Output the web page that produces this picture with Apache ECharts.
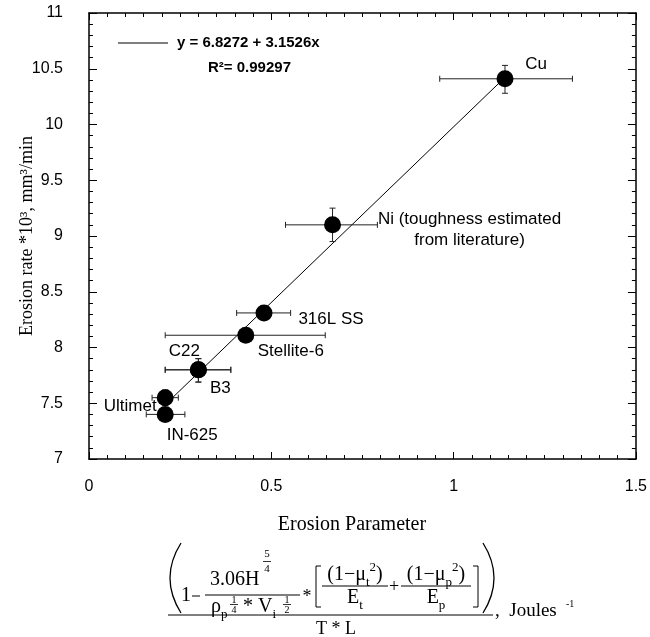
<!DOCTYPE html>
<html>
<head>
<meta charset="utf-8">
<script src="https://cdn.jsdelivr.net/npm/echarts@6/dist/echarts.min.js"></script>
<style>
  html, body { margin: 0; padding: 0; background: #fff; }
  #container { width: 650px; height: 637px; }
</style>
</head>
<body>
<div id="container"></div>
<script>
// materials
var names = ['Cu', 'Ni', '316L SS', 'Stellite-6', 'C22', 'B3', 'Ultimet', 'IN-625'];
var xVals = [1.141, 0.668, 0.480, 0.430, 0.300, 0.300, 0.209, 0.209];
var yVals = [10.41, 9.10, 8.31, 8.11, 7.80, 7.80, 7.55, 7.40];
// error bars (x range and y range)
var xLow  = [0.962, 0.539, 0.405, 0.209, 0.209, 0.209, 0.173, 0.157];
var xHigh = [1.326, 0.791, 0.553, 0.648, 0.389, 0.389, 0.245, 0.263];
var yLow  = [10.28, 8.95, 8.31, 8.11, 7.69, 7.69, 7.48, 7.40];
var yHigh = [10.53, 9.25, 8.31, 8.11, 7.90, 7.90, 7.62, 7.40];
// fitted line ends
var fitX = [0.21, 1.14];
var fitY = [7.49, 10.42];
// ticks
var xTicks = [0, 0.5, 1, 1.5];
var yTicks = [7, 7.5, 8, 8.5, 9, 9.5, 10, 10.5, 11];

var fitText = 'y = 6.8272 + 3.1526x';
var r2Text = 'R²= 0.99297';
var yName = 'Erosion rate *10³, mm³/min';

// label placement (px from point centre)
var labelOffset = {
    'Cu': [31, -14],
    'Ni': [137, 5],
    '316L SS': [67, 6],
    'Stellite-6': [45, 16],
    'C22': [-14, -18],
    'B3': [22, 19],
    'Ultimet': [-35, 9],
    'IN-625': [27, 21]
};
var labelText = { 'Ni': 'Ni (toughness estimated\nfrom literature)' };

var SANS = '"Liberation Sans", Arial, sans-serif';
var SERIF = '"Liberation Serif", "Times New Roman", serif';

var pts = names.map(function (n, i) {
    return {
        name: n,
        value: [xVals[i], yVals[i]],
        label: { offset: labelOffset[n] }
    };
});
var errData = names.map(function (n, i) {
    return [xVals[i], yVals[i], xLow[i], xHigh[i], yLow[i], yHigh[i]];
});

function renderErr(params, api) {
    var x = api.value(0), y = api.value(1);
    var a = api.coord([api.value(2), y]);
    var b = api.coord([api.value(3), y]);
    var lo = api.coord([x, api.value(4)]);
    var hi = api.coord([x, api.value(5)]);
    var c = 3;
    var st = { stroke: '#222', lineWidth: 1 };
    var ch = [
        { type: 'line', shape: { x1: a[0], y1: a[1], x2: b[0], y2: b[1] }, style: st },
        { type: 'line', shape: { x1: a[0], y1: a[1] - c, x2: a[0], y2: a[1] + c }, style: st },
        { type: 'line', shape: { x1: b[0], y1: b[1] - c, x2: b[0], y2: b[1] + c }, style: st }
    ];
    if (lo[1] - hi[1] > 2) {
        ch.push({ type: 'line', shape: { x1: lo[0], y1: lo[1], x2: hi[0], y2: hi[1] }, style: st });
        ch.push({ type: 'line', shape: { x1: lo[0] - c, y1: lo[1], x2: lo[0] + c, y2: lo[1] }, style: st });
        ch.push({ type: 'line', shape: { x1: hi[0] - c, y1: hi[1], x2: hi[0] + c, y2: hi[1] }, style: st });
    }
    return { type: 'group', children: ch };
}

// helpers for the texts drawn by hand (formula, fit legend, y name)
function T(x, y, s, size, align, extra) {
    var st = {
        text: s, fontFamily: SERIF, fontSize: size, fill: '#000',
        align: align || 'left', verticalAlign: 'middle',
        textAlign: align || 'left', textVerticalAlign: 'middle'
    };
    if (extra) { for (var k in extra) st[k] = extra[k]; }
    return { type: 'text', x: x, y: y, style: st, silent: true };
}
function L(x1, y1, x2, y2, w) {
    return { type: 'line', shape: { x1: x1, y1: y1, x2: x2, y2: y2 },
             style: { stroke: '#000', lineWidth: w || 1 }, silent: true };
}
function P(x1, y1, cx, cy, x2, y2) {
    return { type: 'bezierCurve', shape: { x1: x1, y1: y1, cpx1: cx, cpy1: cy, x2: x2, y2: y2 },
             style: { stroke: '#000', lineWidth: 1.3, fill: null }, silent: true };
}
var rich = {
    sb: { fontFamily: SERIF, fontSize: 13, verticalAlign: 'bottom', lineHeight: 13 },
    sp: { fontFamily: SERIF, fontSize: 13, verticalAlign: 'top', lineHeight: 13 }
};
function R(x, y, s, align) {
    return T(x, y, s, 20, align, { rich: rich, lineHeight: 28 });
}

var yNameText = T(27, 236, yName, 18, 'center');
yNameText.rotation = Math.PI / 2;

var formula = [
    yNameText,
    T(352, 525, 'Erosion Parameter', 20, 'center'),
    P(181, 543, 159, 578, 181, 613),
    T(181, 596, '1', 20),
    L(192, 596, 200, 596),
    L(205, 595, 300, 595),
    T(210, 580, '3.06H', 20),
    T(267, 554, '5', 11, 'center'),
    L(263, 561.5, 271, 561.5, 0.8),
    T(267, 569, '4', 11, 'center'),
    R(211, 607, 'ρ{sb|p}'),
    T(234, 600, '1', 10, 'center'),
    L(230, 604.5, 238, 604.5, 0.8),
    T(234, 610, '4', 10, 'center'),
    R(243, 607, '* V{sb|i}'),
    T(287, 600, '1', 10, 'center'),
    L(283, 604.5, 291, 604.5, 0.8),
    T(287, 610, '2', 10, 'center'),
    T(307, 597, '*', 18, 'center'),
    L(316, 566, 316, 607), L(316, 566, 321, 566), L(316, 607, 321, 607),
    R(355, 575, '(1−μ{sb|t}{sp|2})', 'center'),
    L(322, 586, 388, 586),
    R(355, 598, 'E{sb|t}', 'center'),
    T(394, 587, '+', 18, 'center'),
    R(436, 575, '(1−μ{sb|p}{sp|2})', 'center'),
    L(401, 586, 471, 586),
    R(436, 598, 'E{sb|p}', 'center'),
    L(478, 566, 478, 607), L(473, 566, 478, 566), L(473, 607, 478, 607),
    P(483, 543, 505, 578, 483, 613),
    L(168, 615, 493, 615),
    T(336, 629, 'T * L', 18, 'center'),
    T(495, 611, ',  Joules', 19, 'left'),
    T(566, 604, '-1', 10, 'left'),
    // legend of the fit
    L(118, 43, 168, 43),
    { type: 'text', x: 177, y: 43, silent: true,
      style: { text: fitText, fontFamily: SANS, fontWeight: 'bold', fontSize: 15, fill: '#000',
               align: 'left', verticalAlign: 'middle', textAlign: 'left', textVerticalAlign: 'middle' } },
    { type: 'text', x: 208, y: 68, silent: true,
      style: { text: r2Text, fontFamily: SANS, fontWeight: 'bold', fontSize: 15, fill: '#000',
               align: 'left', verticalAlign: 'middle', textAlign: 'left', textVerticalAlign: 'middle' } }
];

function xAxisOf(pos, showLabel) {
    return {
        type: 'value', position: pos,
        min: xTicks[0], max: xTicks[xTicks.length - 1], interval: xTicks[1] - xTicks[0],
        axisLine: { onZero: false, lineStyle: { color: '#000', width: 1.5 } },
        axisTick: { inside: true, length: 7, lineStyle: { color: '#000' } },
        minorTick: { show: true, splitNumber: 10, length: 4, lineStyle: { color: '#000' } },
        splitLine: { show: false },
        axisLabel: { show: showLabel, margin: 20, fontSize: 16, color: '#000', fontFamily: SANS }
    };
}
function yAxisOf(pos, showLabel) {
    return {
        type: 'value', position: pos,
        min: yTicks[0], max: yTicks[yTicks.length - 1], interval: yTicks[1] - yTicks[0],
        axisLine: { onZero: false, lineStyle: { color: '#000', width: 1.5 } },
        axisTick: { inside: true, length: 8, lineStyle: { color: '#000' } },
        minorTick: { show: true, splitNumber: 5, length: 4, lineStyle: { color: '#000' } },
        splitLine: { show: false },
        axisLabel: { show: showLabel, margin: 26, fontSize: 16, color: '#000', fontFamily: SANS }
    };
}

var option = {
    animation: false,
    backgroundColor: '#fff',
    grid: { left: 89, right: 9, top: 13, bottom: 178, containLabel: false },
    xAxis: [xAxisOf('bottom', true), xAxisOf('top', false)],
    yAxis: [yAxisOf('left', true), yAxisOf('right', false)],
    graphic: { elements: formula },
    series: [
        {
            type: 'line', z: 1,
            data: fitX.map(function (x, i) { return [x, fitY[i]]; }),
            showSymbol: false, symbol: 'none',
            lineStyle: { color: '#000', width: 1 }
        },
        {
            type: 'custom', z: 2,
            renderItem: renderErr,
            data: errData,
            encode: { x: 0, y: 1 }
        },
        {
            type: 'scatter', z: 3,
            data: pts,
            symbol: 'circle', symbolSize: 17,
            itemStyle: { color: '#000', opacity: 1 },
            label: {
                show: true, position: 'inside',
                formatter: function (p) { return labelText[p.name] || p.name; },
                fontFamily: SANS, fontSize: 17, color: '#000', lineHeight: 21, align: 'center'
            }
        }
    ]
};

var myChart = echarts.init(document.getElementById('container'));
myChart.setOption(option);
</script>
</body>
</html>
